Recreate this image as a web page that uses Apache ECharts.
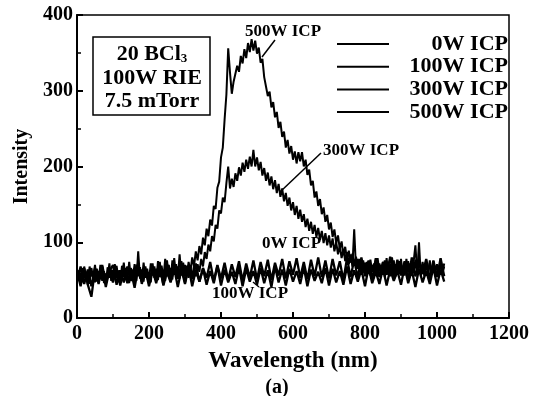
<!DOCTYPE html>
<html>
<head>
<meta charset="utf-8">
<script src="https://cdn.jsdelivr.net/npm/echarts@6/dist/echarts.min.js"></script>
<style>
html, body { margin: 0; padding: 0; background: #fff; }
#chart { width: 542px; height: 396px; }
</style>
</head>
<body>
<div id="chart"></div>
<script>
// wavelength grids (nm): 10 nm for the flat spectra, 5 nm for the peaked ones
const wavelength10 = [
  0, 10, 20, 30, 40, 50, 60, 70, 80, 90,
  100, 110, 120, 130, 140, 150, 160, 170, 180, 190,
  200, 210, 220, 230, 240, 250, 260, 270, 280, 290,
  300, 310, 320, 330, 340, 350, 360, 370, 380, 390,
  400, 410, 420, 430, 440, 450, 460, 470, 480, 490,
  500, 510, 520, 530, 540, 550, 560, 570, 580, 590,
  600, 610, 620, 630, 640, 650, 660, 670, 680, 690,
  700, 710, 720, 730, 740, 750, 760, 770, 780, 790,
  800, 810, 820, 830, 840, 850, 860, 870, 880, 890,
  900, 910, 920, 930, 940, 950, 960, 970, 980, 990,
  1000, 1010, 1020
];

const wavelength5 = [
  0, 5, 10, 15, 20, 25, 30, 35, 40, 45, 50, 55, 60, 65, 70, 75, 80, 85, 90, 95,
  100, 105, 110, 115, 120, 125, 130, 135, 140, 145, 150, 155, 160, 165, 170, 175, 180, 185, 190, 195,
  200, 205, 210, 215, 220, 225, 230, 235, 240, 245, 250, 255, 260, 265, 270, 275, 280, 285, 290, 295,
  300, 305, 310, 315, 320, 325, 330, 335, 340, 345, 350, 355, 360, 365, 370, 375, 380, 385, 390, 395,
  400, 405, 410, 415, 420, 425, 430, 435, 440, 445, 450, 455, 460, 465, 470, 475, 480, 485, 490, 495,
  500, 505, 510, 515, 520, 525, 530, 535, 540, 545, 550, 555, 560, 565, 570, 575, 580, 585, 590, 595,
  600, 605, 610, 615, 620, 625, 630, 635, 640, 645, 650, 655, 660, 665, 670, 675, 680, 685, 690, 695,
  700, 705, 710, 715, 720, 725, 730, 735, 740, 745, 750, 755, 760, 765, 770, 775, 780, 785, 790, 795,
  800, 805, 810, 815, 820, 825, 830, 835, 840, 845, 850, 855, 860, 865, 870, 875, 880, 885, 890, 895,
  900, 905, 910, 915, 920, 925, 930, 935, 940, 945, 950, 955, 960, 965, 970, 975, 980, 985, 990, 995,
  1000, 1005, 1010, 1015, 1020
];

// 0W ICP on wavelength10
const icp0 = [
  48, 68, 45, 64, 42, 66, 50, 70, 46, 62,
  70, 44, 63, 47, 68, 49, 60, 72, 45, 64,
  46, 67, 50, 69, 44, 71, 48, 66, 52, 70,
  47, 69, 51, 72, 48, 66, 53, 74, 49, 70,
  52, 73, 50, 71, 54, 75, 49, 72, 53, 76,
  51, 74, 55, 77, 50, 73, 56, 78, 52, 75,
  57, 79, 53, 74, 51, 77, 55, 80, 54, 76,
  52, 78, 56, 75, 50, 79, 54, 77, 53, 80,
  55, 76, 51, 79, 54, 74, 57, 81, 52, 77,
  56, 75, 50, 80, 55, 73, 58, 78, 51, 76,
  54, 79, 55
];

// 100W ICP on wavelength10
const icp100 = [
  62, 42, 66, 44, 28, 64, 45, 68, 41, 63,
  47, 66, 43, 65, 46, 62, 40, 67, 48, 64,
  42, 63, 46, 68, 43, 61, 47, 66, 41, 64,
  45, 67, 42, 63, 48, 65, 44, 62, 46, 69,
  43, 64, 47, 61, 45, 67, 42, 65, 48, 62,
  44, 66, 46, 63, 41, 68, 47, 64, 43, 65,
  48, 62, 45, 67, 42, 64, 49, 61, 46, 66,
  43, 65, 47, 62, 44, 68, 45, 63, 48, 64,
  42, 67, 46, 61, 45, 66, 43, 64, 49, 62,
  44, 68, 46, 63, 41, 65, 47, 62, 45, 67,
  43, 64, 48
];

// 300W ICP on wavelength5
const icp300 = [
  50, 63, 46, 66, 52, 61, 44, 68, 55, 60, 47, 65, 51, 70, 49, 62, 45, 67, 53, 64,
  48, 71, 52, 63, 46, 69, 54, 66, 50, 74, 51, 64, 47, 70, 55, 67, 49, 73, 53, 65,
  50, 72, 56, 68, 48, 75, 54, 69, 52, 78, 55, 70, 50, 76, 57, 71, 53, 84, 56, 73,
  55, 69, 53, 68, 54, 69, 55, 71, 61, 78, 68, 87, 78, 97, 88, 108, 101, 123, 118, 142,
  138, 159, 153, 178, 200, 171, 184, 173, 191, 181, 199, 188, 205, 193, 209, 197, 213, 200, 222, 200,
  212, 195, 206, 188, 198, 181, 192, 175, 187, 170, 182, 165, 177, 160, 171, 154, 165, 148, 159, 142,
  153, 136, 148, 131, 143, 127, 137, 120, 131, 115, 127, 111, 123, 107, 119, 103, 115, 99, 112, 96,
  109, 93, 105, 88, 100, 84, 95, 79, 91, 75, 87, 71, 84, 68, 117, 65, 78, 62, 75, 60,
  73, 58, 75, 56, 70, 59, 77, 55, 72, 60, 74, 54, 79, 57, 71, 61, 76, 55, 73, 58,
  78, 56, 70, 60, 75, 54, 72, 59, 77, 57, 100, 55, 74, 60, 71, 56, 76, 58, 73, 61,
  70, 55, 75, 59, 68
];

// 500W ICP on wavelength5
const icp500 = [
  64, 50, 60, 47, 68, 52, 58, 45, 66, 53, 70, 48, 62, 51, 67, 46, 59, 54, 72, 49,
  63, 52, 69, 47, 61, 55, 73, 50, 58, 46, 66, 53, 71, 49, 88, 52, 64, 48, 68, 55,
  60, 47, 72, 53, 65, 50, 74, 54, 62, 49, 76, 55, 66, 51, 79, 56, 68, 52, 75, 58,
  70, 56, 74, 61, 80, 68, 88, 76, 95, 84, 106, 96, 118, 108, 130, 122, 148, 144, 172, 180,
  212, 225, 262, 295, 356, 324, 296, 312, 312, 333, 325, 346, 336, 355, 343, 363, 351, 368, 353, 366,
  349, 357, 337, 342, 318, 319, 293, 299, 278, 285, 265, 272, 251, 259, 239, 246, 225, 235, 217, 227,
  209, 220, 204, 219, 207, 219, 200, 209, 189, 196, 175, 181, 159, 167, 148, 157, 137, 146, 127, 136,
  117, 126, 107, 117, 99, 109, 91, 101, 83, 94, 77, 89, 73, 85, 69, 81, 65, 78, 63, 76,
  60, 74, 58, 77, 61, 72, 56, 79, 62, 70, 57, 76, 60, 73, 55, 80, 61, 71, 58, 75,
  62, 69, 56, 78, 60, 72, 57, 74, 96, 59, 76, 61, 70, 55, 77, 60, 73, 57, 75, 62,
  71, 56, 78, 59, 72
];

const seriesNames = ['0W ICP', '100W ICP', '300W ICP', '500W ICP'];
const seriesValues = [icp0, icp100, icp300, icp500];
const seriesGrid = [wavelength10, wavelength10, wavelength5, wavelength5];

const FONT = '"Liberation Serif", "Times New Roman", serif';

function pairs(xs, values) {
  return xs.map((w, i) => [w, values[i]]);
}

const chart = echarts.init(document.getElementById('chart'));

chart.setOption({
  animation: false,
  backgroundColor: '#fff',
  textStyle: { fontFamily: FONT, color: '#000' },
  grid: {
    left: 77, top: 15, right: 33, bottom: 78,
    show: true, borderColor: '#000', borderWidth: 1.5
  },
  legend: {
    left: 332, top: 28,
    orient: 'vertical',
    itemWidth: 52, itemHeight: 2, itemGap: 0.7,
    icon: 'rect',
    data: seriesNames,
    formatter: name => '{n|' + name + '}',
    textStyle: {
      fontFamily: FONT, fontWeight: 'bold', fontSize: 22, color: '#000',
      rich: { n: { width: 114, align: 'right', lineHeight: 22, fontFamily: FONT, fontWeight: 'bold', fontSize: 22 } }
    }
  },
  xAxis: {
    type: 'value', min: 0, max: 1200, interval: 200,
    name: 'Wavelength (nm)', nameLocation: 'middle', nameGap: 32,
    nameTextStyle: { fontFamily: FONT, fontWeight: 'bold', fontSize: 23, color: '#000' },
    axisLine: { lineStyle: { color: '#000', width: 2 } },
    axisTick: { inside: true, length: 6, lineStyle: { color: '#000', width: 2 } },
    minorTick: { show: true, splitNumber: 2, length: 4, lineStyle: { color: '#000', width: 1.5 } },
    axisLabel: { fontFamily: FONT, fontWeight: 'bold', fontSize: 20, color: '#000', margin: 6,
      formatter: v => String(v) },
    splitLine: { show: false }
  },
  yAxis: {
    type: 'value', min: 0, max: 400, interval: 100,
    name: 'Intensity', nameLocation: 'middle', nameGap: 42,
    nameTextStyle: { fontFamily: FONT, fontWeight: 'bold', fontSize: 20, color: '#000' },
    axisLine: { lineStyle: { color: '#000', width: 2 } },
    axisTick: { inside: true, length: 6, lineStyle: { color: '#000', width: 2 } },
    minorTick: { show: true, splitNumber: 2, length: 4, lineStyle: { color: '#000', width: 1.5 } },
    axisLabel: { fontFamily: FONT, fontWeight: 'bold', fontSize: 20, color: '#000', margin: 4,
      formatter: v => String(v) },
    splitLine: { show: false }
  },
  series: seriesNames.map((name, k) => ({
    name: name,
    type: 'line',
    data: pairs(seriesGrid[k], seriesValues[k]),
    showSymbol: false,
    symbol: 'none',
    color: '#000',
    lineStyle: { color: '#000', width: k < 2 ? 2.3 : 2 },
    emphasis: { disabled: true }
  })),
  graphic: [
    // condition box
    { type: 'rect', shape: { x: 93, y: 37, width: 117, height: 78 },
      style: { fill: '#fff', stroke: '#000', lineWidth: 1.5 }, z: 10 },
    { type: 'text', x: 152, y: 54, z: 11,
      style: { text: '{a|20 BCl}{s|3}', align: 'center', verticalAlign: 'middle',
        rich: {
          a: { fontFamily: FONT, fontWeight: 'bold', fontSize: 22, lineHeight: 22, fill: '#000' },
          s: { fontFamily: FONT, fontWeight: 'bold', fontSize: 13, lineHeight: 13, verticalAlign: 'bottom', fill: '#000' }
        } } },
    { type: 'text', x: 152, y: 78, z: 11,
      style: { text: '100W RIE', align: 'center', verticalAlign: 'middle',
        font: 'bold 22px ' + FONT, fill: '#000' } },
    { type: 'text', x: 152, y: 101, z: 11,
      style: { text: '7.5 mTorr', align: 'center', verticalAlign: 'middle',
        font: 'bold 22px ' + FONT, fill: '#000' } },
    // curve annotations
    { type: 'text', x: 245, y: 32, z: 11,
      style: { text: '500W ICP', verticalAlign: 'middle', font: 'bold 17px ' + FONT, fill: '#000' } },
    { type: 'line', z: 11, shape: { x1: 275, y1: 40, x2: 262, y2: 57 }, style: { stroke: '#000', lineWidth: 1.5 } },
    { type: 'text', x: 323, y: 151, z: 11,
      style: { text: '300W ICP', verticalAlign: 'middle', font: 'bold 17px ' + FONT, fill: '#000' } },
    { type: 'line', z: 11, shape: { x1: 321, y1: 153, x2: 280, y2: 192 }, style: { stroke: '#000', lineWidth: 1.5 } },
    { type: 'text', x: 262, y: 244, z: 11,
      style: { text: '0W ICP', verticalAlign: 'middle', font: 'bold 17px ' + FONT, fill: '#000' } },
    { type: 'text', x: 212, y: 294, z: 11,
      style: { text: '100W ICP', verticalAlign: 'middle', font: 'bold 17px ' + FONT, fill: '#000' } },
    { type: 'line', z: 11, shape: { x1: 253, y1: 282, x2: 259, y2: 287 }, style: { stroke: '#000', lineWidth: 1.5 } },
    // panel tag
    { type: 'text', x: 277, y: 388, z: 11,
      style: { text: '(a)', align: 'center', verticalAlign: 'middle', font: 'bold 20px ' + FONT, fill: '#000' } }
  ]
});
</script>
</body>
</html>
